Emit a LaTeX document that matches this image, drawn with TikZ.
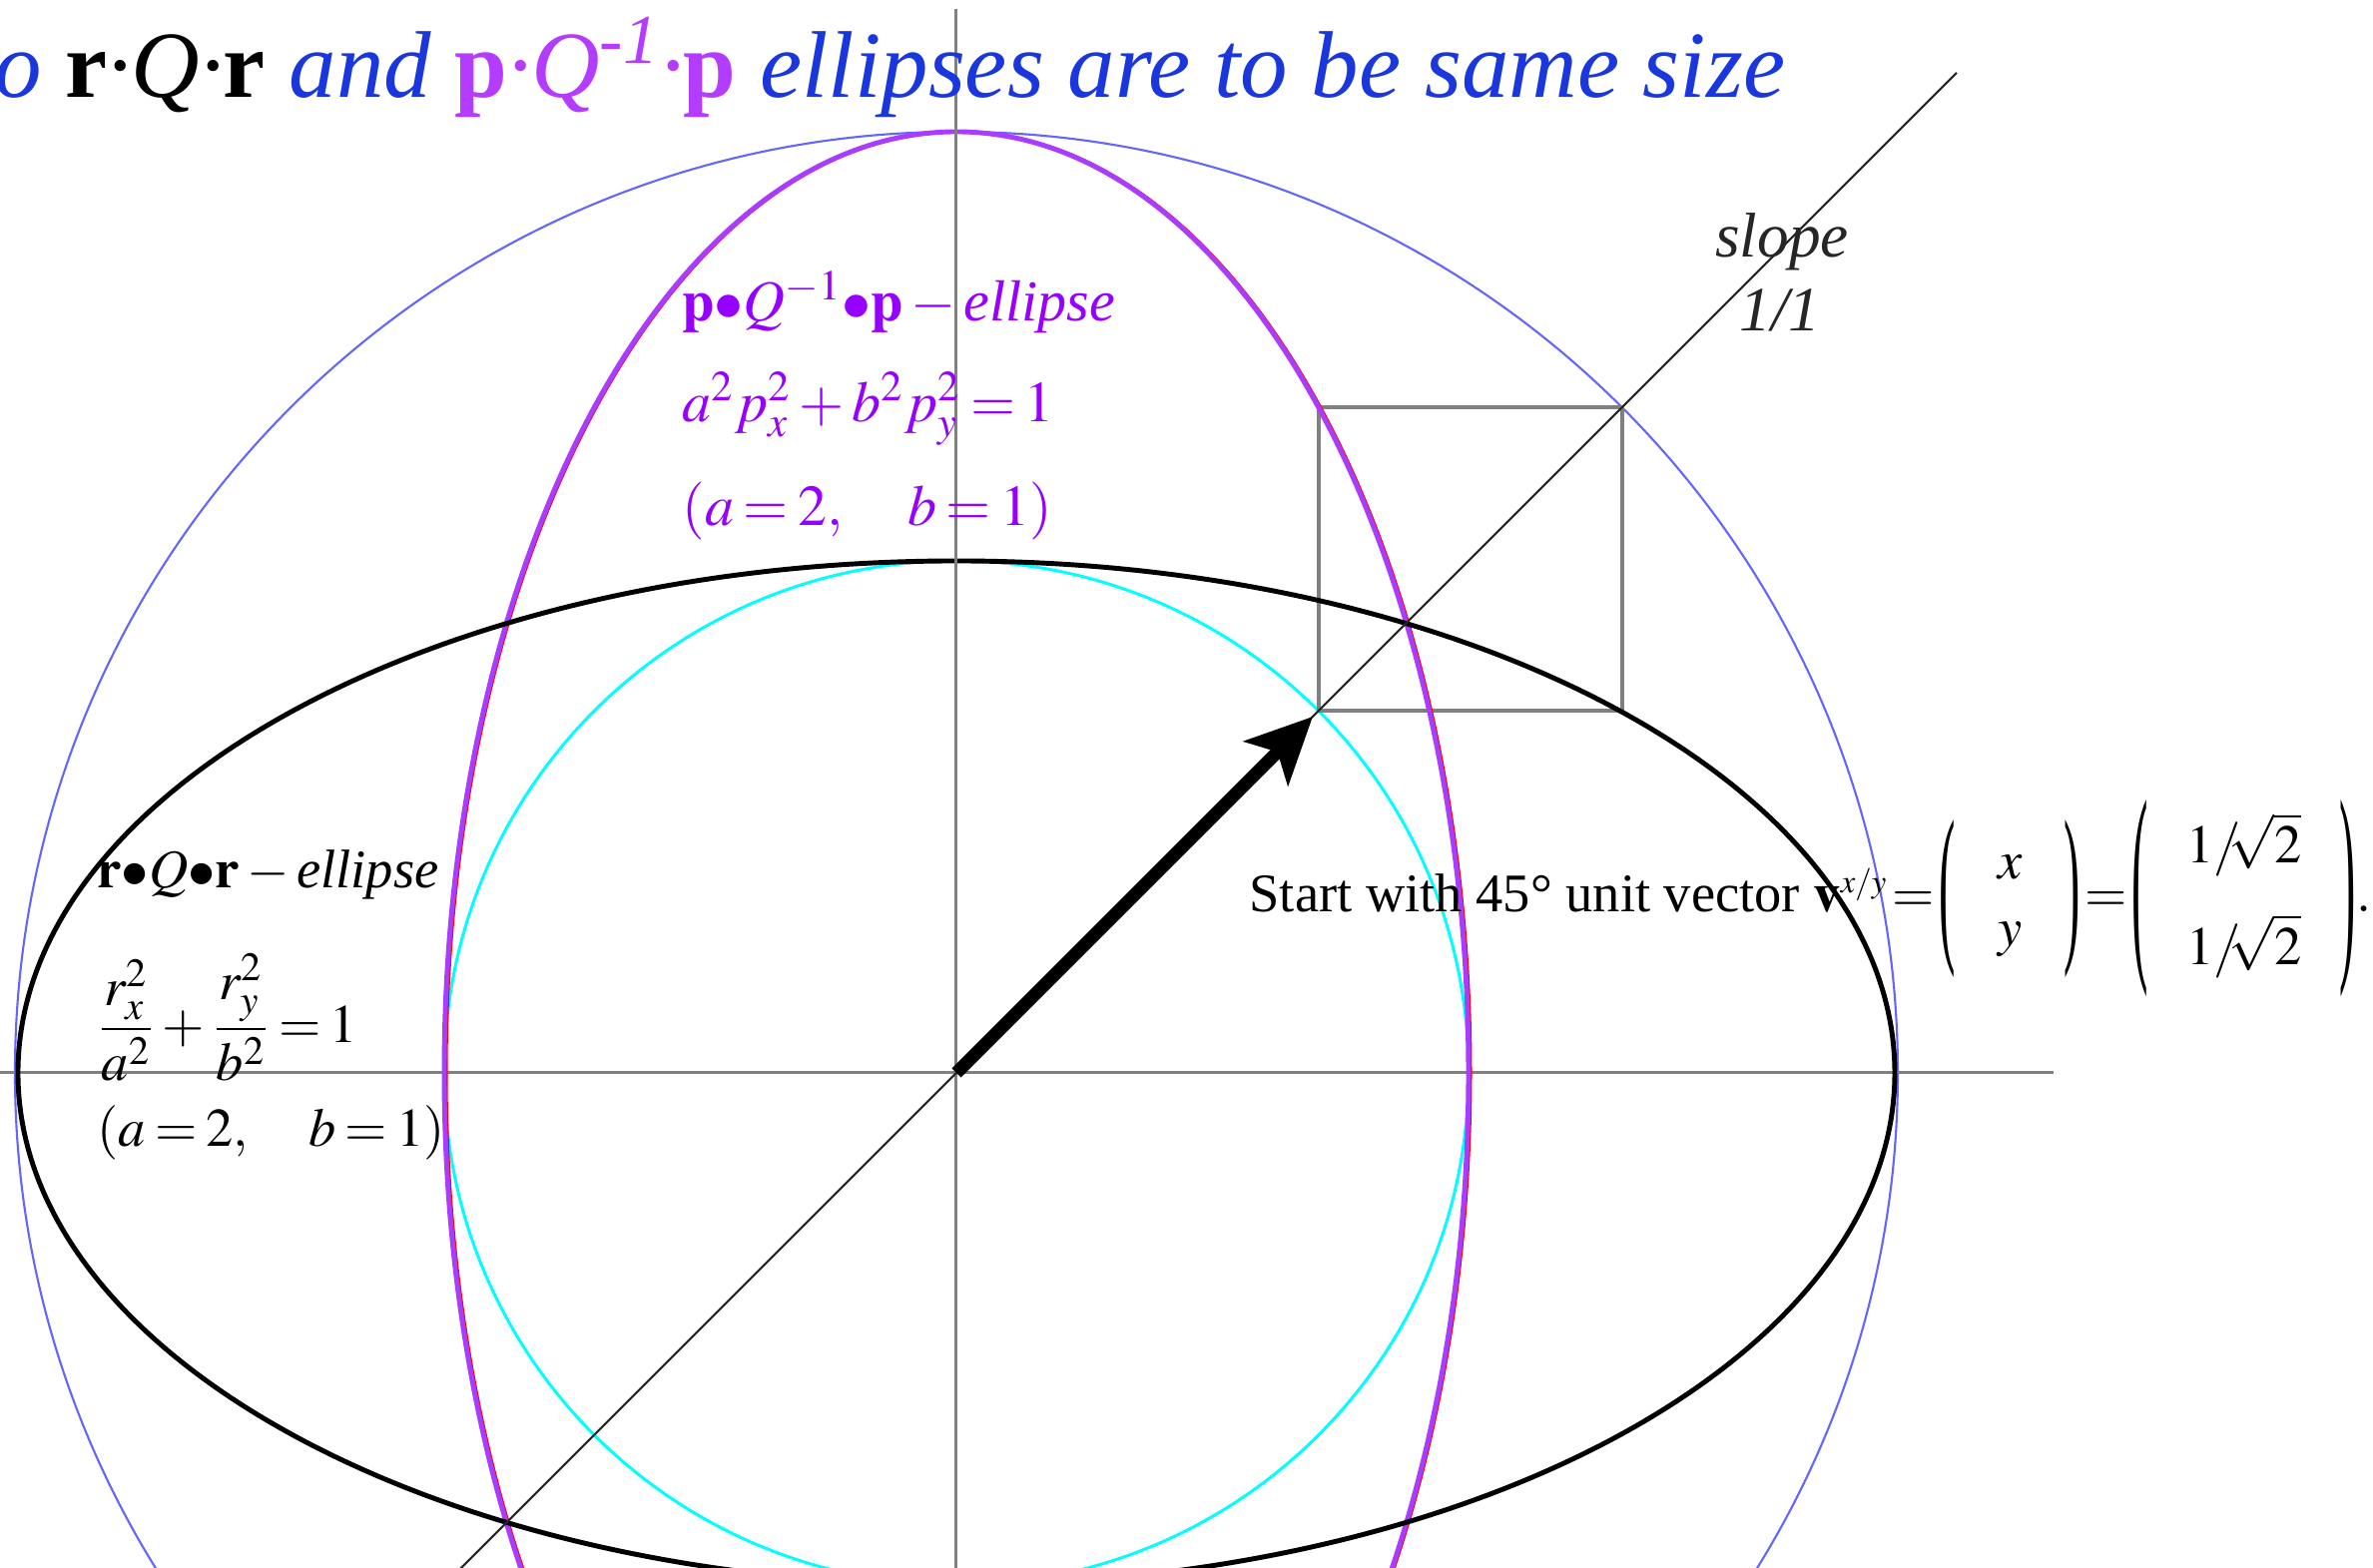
\documentclass[tikz,border=0pt]{standalone}
\usepackage{amsmath}
\usepackage{graphicx}
\usepackage{mathptmx}
\usepackage{fontspec}
\setmainfont{Liberation Serif}
\usetikzlibrary{arrows.meta}
\definecolor{qblue}{RGB}{25, 55, 220}
\definecolor{qpurple}{RGB}{150, 0, 255}
\definecolor{qtitlepurple}{RGB}{180, 60, 255}
\definecolor{qellpurple}{RGB}{170, 60, 255}
\definecolor{qcircblue}{RGB}{100, 100, 255}
\definecolor{qcyan}{RGB}{0, 255, 255}
\definecolor{qgray}{RGB}{128, 128, 128}
\newcommand{\tightmath}{\thickmuskip=3mu plus 1mu\relax}
\newcommand{\vecmath}{\thickmuskip=1.5mu\relax}
\newcommand{\tallparen}[2]{\vcenter{\hbox{\scalebox{0.9}[#1]{#2}}}}

\begin{document}
\begin{tikzpicture}[
    axis/.style={qgray, line width=0.85pt},
    lbl/.style={inner sep=0pt, font=\fontsize{16.5}{20}\selectfont\tightmath},
    rlbl/.style={inner sep=0pt, font=\fontsize{15.5}{19}\selectfont\tightmath},
]
\useasboundingbox (-9.58,-4.96) rectangle (14.19,10.75);
\clip (-9.58,-4.96) rectangle (14.19,10.75);

% === Puntos base ===
\coordinate (O) at (0, 0);
\coordinate (vtip) at (3.57, 3.57);
\coordinate (sqlo) at (3.63, 3.63);
\coordinate (sqhi) at (6.67, 6.67);

% Circulos de referencia
\draw[qcircblue, line width=0.6pt] (O) circle (9.43);
\draw[qcyan, line width=0.85pt] (O) circle (5.13);

% Cuadro entre los dos circulos
\draw[qgray, line width=1.1pt] (sqlo) rectangle (sqhi);

% Eje horizontal
\draw[axis] (-9.58, 0) -- (10.99, 0);

% Elipse p.Q^-1.p (vertical)
\draw[red, line width=0.8pt] ([xshift=0.6pt]O) ellipse [x radius=5.13, y radius=9.43];
\draw[qellpurple, line width=1.4pt] (O) ellipse [x radius=5.13, y radius=9.43];

% Elipse r.Q.r (horizontal)
\draw[black, line width=1.4pt] (O) ellipse [x radius=9.40, y radius=5.13];

% Eje vertical y recta de pendiente 1
\draw[axis] (0, -4.96) -- (0, 10.66);
\draw[black!85, line width=0.6pt] (-6, -6) -- (10.02, 10.02);

% Vector unitario a 45 grados
\draw[line width=3.7pt, -{Stealth[length=6.6mm, width=6.2mm, inset=1.6mm]}] (O) -- (vtip);

% === Textos ===
\node[anchor=base east, inner sep=0pt, font=\fontsize{27}{32}\selectfont\itshape] (title) at (8.31, 9.77)
    {\textcolor{qblue}{o} \textcolor{black}{\textbf{\upshape r}·Q·\textbf{\upshape r}}
     \textcolor{qblue}{and}
     \textcolor{qtitlepurple}{\textbf{\upshape p}·Q\textsuperscript{-1}·\textbf{\upshape p}}
     \textcolor{qblue}{ellipses are to be same size}};

\node[anchor=base, inner sep=0pt, font=\fontsize{18}{22}\selectfont\itshape, text=black!85] (slope) at (8.27, 8.17) {slope};
\node[anchor=base, inner sep=0pt, font=\fontsize{18}{22}\selectfont\itshape, text=black!85] (ratio) at (8.25, 7.43) {1/1};

% Etiqueta de la elipse p
\node[lbl, anchor=base west, text=qpurple] (pname) at (-2.75, 7.53)
    {$\mathbf{p}{\bullet}Q^{-1}{\bullet}\mathbf{p}-\textit{ellipse}$};
\node[lbl, anchor=base west, text=qpurple] (peq) at (-2.75, 6.52)
    {$a^2p_x^2+b^2p_y^2=1$};
\node[lbl, anchor=base west, text=qpurple] (pab) at (-2.75, 5.48)
    {$(a=2,\quad b=1)$};

% Etiqueta de la elipse r
\node[rlbl, anchor=base west] (rname) at (-8.61, 1.85)
    {$\mathbf{r}{\bullet}Q{\bullet}\mathbf{r}-\textit{ellipse}$};
\node[rlbl, anchor=west] (req) at (-8.61, 0.56)
    {$\dfrac{r_x^2}{a^2}+\dfrac{r_y^2}{b^2}=1$};
\node[rlbl, anchor=base west] (rab) at (-8.61, -0.74)
    {$(a=2,\quad b=1)$};

% Vector de partida
\node[anchor=base west, inner sep=0pt, font=\fontsize{15.5}{19}\selectfont\vecmath] (start) at (2.93, 1.61)
    {Start with 45° unit vector $\mathbf{v}^{\scriptscriptstyle x/y}=
     \setlength{\arraycolsep}{12pt}
     \tallparen{3.2}{(}\begin{array}{c}x\\ y\end{array}\tallparen{3.2}{)}=
     \setlength{\arraycolsep}{11pt}
     \tallparen{4}{(}\begin{array}{c}1/\!\!\sqrt{2}\\[9pt] 1/\!\!\sqrt{2}\end{array}\tallparen{4}{)}.$};

\end{tikzpicture}
\end{document}
